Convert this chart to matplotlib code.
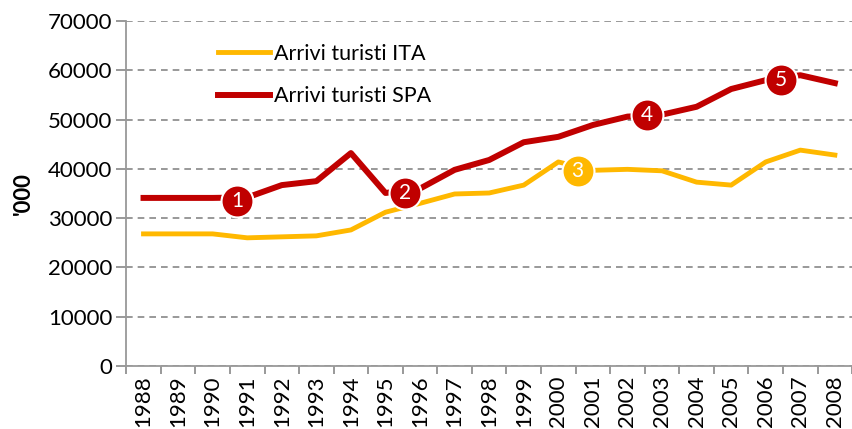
import matplotlib.pyplot as plt
import numpy as np

# ── Data ────────────────────────────────────────────────────
years = [str(y) for y in range(1988, 2009)]
ita = [26800, 26800, 26800, 26000, 26200, 26400, 27600, 31200, 33000, 34900, 35100,
       36700, 41400, 39700, 39900, 39600, 37300, 36700, 41400, 43800, 42800]
spa = [34100, 34100, 34100, 34200, 36700, 37500, 43200, 35100, 36000, 39800, 41800,
       45400, 46500, 48900, 50600, 51000, 52600, 56200, 58000, 59000, 57400]

# numbered callouts (category position, value, series)
ann_labels = ["1", "2", "3", "4", "5"]
ann_x = [2.71, 7.56, 12.56, 14.56, 18.43]
ann_y = [33500, 35100, 39600, 50900, 58000]
ann_series = ["SPA", "SPA", "ITA", "SPA", "SPA"]

RED = "#C00000"
GOLD = "#FFB800"
plt.rcParams["font.family"] = ["Lato", "DejaVu Sans"]

fig = plt.figure(figsize=(8.53, 4.29), dpi=100)
ax = fig.add_axes([0.148, 0.147, 0.851, 0.804])

x = np.arange(len(years))
ax.plot(x, ita, color=GOLD, lw=3.5, label="Arrivi turisti ITA", zorder=3)
ax.plot(x, spa, color=RED, lw=4.3, label="Arrivi turisti SPA", zorder=3)

for lab, px, py, s in zip(ann_labels, ann_x, ann_y, ann_series):
    c = RED if s == "SPA" else GOLD
    ax.plot(px, py, "o", ms=23, mfc=c, mec="white", mew=1.5, zorder=4)
    ax.text(px, py, lab, color="white", fontsize=15, ha="center", va="center", zorder=5)

ax.set_xlim(-0.5, len(years) - 0.5)
ax.set_ylim(0, 70000)
ax.set_yticks(range(0, 70001, 10000))
ax.set_xticks(x)
ax.set_xticklabels(years, rotation=90, fontsize=16)
ax.set_xticks(np.arange(-0.5, len(years), 1), minor=True)
ax.tick_params(axis="x", which="major", length=0, pad=7)
ax.tick_params(axis="x", which="minor", length=6, color="#888888", width=1.2)
ax.tick_params(axis="y", length=7, color="#888888", width=1.2, labelsize=16, pad=3)

ax.grid(axis="y", linestyle=(0, (4, 3)), color="#888888", lw=1.2)
ax.set_axisbelow(True)
for side in ["top", "right"]:
    ax.spines[side].set_visible(False)
for side in ["left", "bottom"]:
    ax.spines[side].set_color("#999999")
    ax.spines[side].set_linewidth(1.3)

ax.set_ylabel("'000", fontsize=16, fontweight="bold", labelpad=10)

leg = ax.legend(loc="upper left", bbox_to_anchor=(0.1, 0.99), frameon=False,
                fontsize=15.5, handlelength=2.4, handletextpad=0.2, labelspacing=1.05)

fig.savefig("out.png", dpi=100)
